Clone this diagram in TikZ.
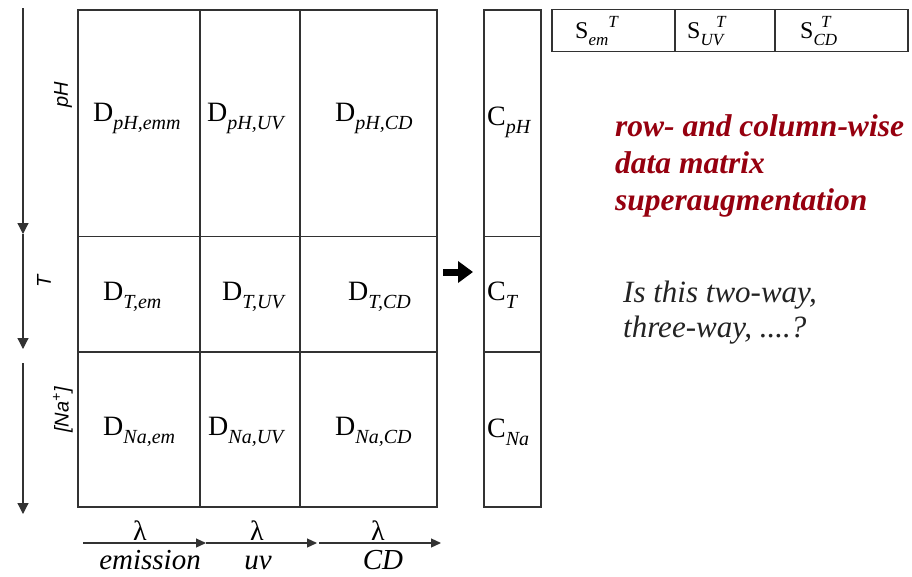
\documentclass[tikz,border=0pt]{standalone}
\usepackage{fontspec}
\setmainfont{Liberation Serif}
\newfontfamily\axisfont{Liberation Sans}
\usetikzlibrary{arrows.meta}
\definecolor{gridgray}{RGB}{50,50,50}
\definecolor{augred}{RGB}{150,0,15}
\definecolor{notegray}{RGB}{35,35,35}
\newcommand{\lowidx}[1]{\raisebox{-8pt}{\fontsize{20}{20}\selectfont\itshape #1}}
\newcommand{\lowsm}[1]{\raisebox{-7pt}{\fontsize{17}{17}\selectfont\itshape #1}}
\newcommand{\highsm}[1]{\raisebox{11pt}{\fontsize{17}{17}\selectfont\itshape #1}}
\tikzset{
  cellbox/.style={draw=gridgray, line width=1.2pt, inner sep=0pt},
  blocklabel/.style={anchor=base west, inner sep=0pt, font=\fontsize{28}{30}\selectfont},
  loadlabel/.style={anchor=base west, inner sep=0pt, font=\fontsize{24}{26}\selectfont},
  axisarrow/.style={-{Triangle[width=11pt,length=11pt]}, line width=1.2pt, draw=gridgray, fill=gridgray},
  axislabel/.style={rotate=90, inner sep=0pt, font=\axisfont\fontsize{20}{22}\selectfont\itshape},
  waveaxis/.style={-{Triangle[width=9pt,length=10pt]}, line width=1.2pt, draw=gridgray, fill=gridgray},
  wavelabel/.style={anchor=base, inner sep=0pt, font=\fontsize{29}{31}\selectfont\itshape},
  blockarrow/.style={-{Triangle[width=21pt,length=15pt]}, line width=7pt}
}
\begin{document}
\begin{tikzpicture}[x=1pt, y=-1pt]
  \useasboundingbox[fill=white] (0,0) rectangle (912,576);
  % data blocks D
  \node[cellbox, minimum width=122pt, minimum height=226.5pt] (pHem) at (139,123.25) {};
  \node[cellbox, minimum width=100pt, minimum height=226.5pt] (pHuv) at (250,123.25) {};
  \node[cellbox, minimum width=137pt, minimum height=226.5pt] (pHcd) at (368.5,123.25) {};
  \node[cellbox, minimum width=122pt, minimum height=115.5pt] (Tem) at (139,294.25) {};
  \node[cellbox, minimum width=100pt, minimum height=115.5pt] (Tuv) at (250,294.25) {};
  \node[cellbox, minimum width=137pt, minimum height=115.5pt] (Tcd) at (368.5,294.25) {};
  \node[cellbox, minimum width=122pt, minimum height=155pt] (Naem) at (139,429.5) {};
  \node[cellbox, minimum width=100pt, minimum height=155pt] (Nauv) at (250,429.5) {};
  \node[cellbox, minimum width=137pt, minimum height=155pt] (Nacd) at (368.5,429.5) {};
  \node[blocklabel] (lpHem) at (93,121) {D\lowidx{pH,emm}};
  \node[blocklabel] (lpHuv) at (207,121) {D\lowidx{pH,UV}};
  \node[blocklabel] (lpHcd) at (335,121) {D\lowidx{pH,CD}};
  \node[blocklabel] (lTem) at (103,300) {D\lowidx{T,em}};
  \node[blocklabel] (lTuv) at (222,300) {D\lowidx{T,UV}};
  \node[blocklabel] (lTcd) at (348,300) {D\lowidx{T,CD}};
  \node[blocklabel] (lNaem) at (103,435) {D\lowidx{Na,em}};
  \node[blocklabel] (lNauv) at (208,435) {D\lowidx{Na,UV}};
  \node[blocklabel] (lNacd) at (335,435) {D\lowidx{Na,CD}};
  % concentration profiles C
  \node[cellbox, minimum width=57pt, minimum height=226.5pt] (CpH) at (512.5,123.25) {};
  \node[cellbox, minimum width=57pt, minimum height=115.5pt] (CT) at (512.5,294.25) {};
  \node[cellbox, minimum width=57pt, minimum height=155pt] (CNa) at (512.5,429.5) {};
  \node[blocklabel] (lCpH) at (487,125) {C\lowidx{pH}};
  \node[blocklabel] (lCT) at (487,300) {C\lowidx{T}};
  \node[blocklabel] (lCNa) at (487,437) {C\lowidx{Na}};
  % spectra S
  \node[cellbox, minimum width=123pt, minimum height=42pt] (Sem) at (613.5,30.5) {};
  \node[cellbox, minimum width=100pt, minimum height=42pt] (Suv) at (725,30.5) {};
  \node[cellbox, minimum width=133pt, minimum height=42pt] (Scd) at (841.5,30.5) {};
  \node[loadlabel] (lSem) at (575,38) {S\lowsm{em}\highsm{T}};
  \node[loadlabel] (lSuv) at (687,38) {S\lowsm{UV}\kern-7pt\highsm{T}};
  \node[loadlabel] (lScd) at (800,38) {S\lowsm{CD}\kern-16pt\highsm{T}};
  % arrow D -> C S
  \coordinate (arrS) at (443,272);
  \coordinate (arrE) at (473,272);
  \draw[blockarrow] (arrS) -- (arrE);
  % experiment axes
  \coordinate (ax0) at (23,8);
  \coordinate (ax1) at (23,234);
  \coordinate (ax2) at (23,349);
  \coordinate (ax3) at (23,363);
  \coordinate (ax4) at (23,514);
  \draw[axisarrow] (ax0) -- (ax1);
  \draw[axisarrow] (ax1) -- (ax2);
  \draw[axisarrow] (ax3) -- (ax4);
  \node[axislabel] (ylpH) at (63,95) {pH};
  \node[axislabel] (ylT) at (44,281) {T};
  \node[axislabel] (ylNa) at (63,410) {[Na\textsuperscript{+}]};
  % wavelength axes
  \coordinate (wl0) at (83,543);
  \coordinate (wl1) at (206,543);
  \coordinate (wl2) at (317,543);
  \coordinate (wl3) at (319,543);
  \coordinate (wl4) at (441,543);
  \draw[waveaxis] (wl0) -- (wl1);
  \draw[waveaxis] (wl1) -- (wl2);
  \draw[waveaxis] (wl3) -- (wl4);
  \node[wavelabel, font=\fontsize{28}{30}\selectfont] (lam1) at (140,540) {λ};
  \node[wavelabel, font=\fontsize{28}{30}\selectfont] (lam2) at (257,540) {λ};
  \node[wavelabel, font=\fontsize{28}{30}\selectfont] (lam3) at (378,540) {λ};
  \node[wavelabel] (wlem) at (150,569) {emission};
  \node[wavelabel] (wluv) at (258,569) {uv};
  \node[wavelabel] (wlcd) at (383,569) {CD};
  % notes
  \node[anchor=north west, align=left, inner sep=0pt, text=augred, font=\fontsize{31.5}{37}\selectfont\bfseries\itshape] (title) at (615,114) {row- and column-wise\\data matrix\\superaugmentation};
  \node[anchor=north west, align=left, inner sep=0pt, text=notegray, font=\fontsize{31}{35}\selectfont\itshape] (question) at (623,281) {Is this two-way,\\three-way, ....?};
\end{tikzpicture}
\end{document}
